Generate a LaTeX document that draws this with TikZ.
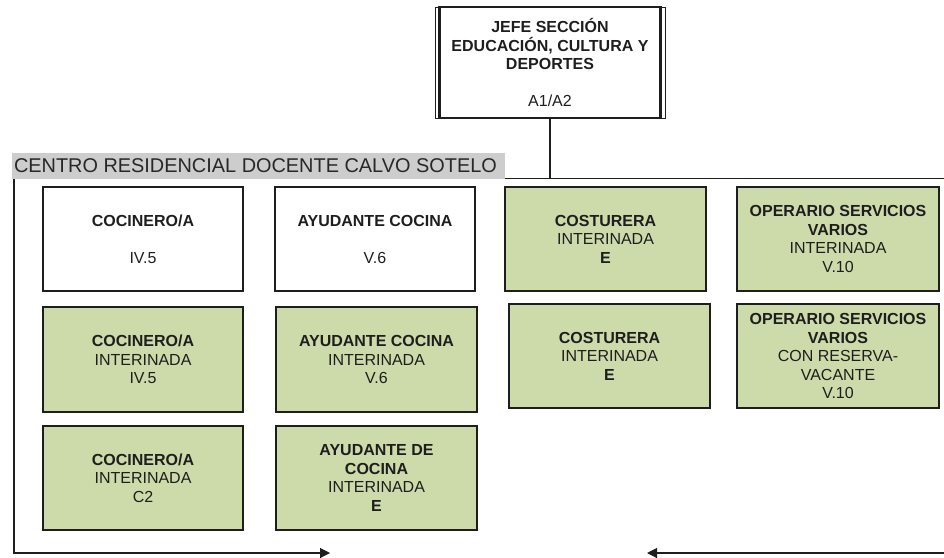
\documentclass[tikz,border=0pt]{standalone}
\usepackage{fontspec}
\setmainfont{Liberation Sans}
\usetikzlibrary{arrows.meta}
\definecolor{boxgreen}{RGB}{205,219,170}
\definecolor{hdrgray}{RGB}{205,205,205}
\definecolor{inkc}{RGB}{30,30,30}
\tikzset{
  x=1pt, y=-1pt,
  orgbox/.style={draw=inkc, line width=1.2pt, minimum width=200pt, minimum height=104pt,
    inner sep=0pt, align=center, font=\fontsize{16}{18.5}\selectfont, text=inkc},
  greenbox/.style={orgbox, fill=boxgreen},
  conn/.style={draw=inkc, line width=1.1pt},
  tip/.style={-{Triangle[length=10pt,width=10pt]}}
}
\begin{document}
\begin{tikzpicture}
\useasboundingbox (0,0) rectangle (944,557);
% top box
\node[draw=inkc, line width=1pt, minimum width=230pt, minimum height=111pt, inner sep=0pt] (topout) at (550,62.5) {};
\node[draw=inkc, line width=2.2pt, minimum width=221pt, minimum height=111pt, inner sep=0pt,
  align=center, font=\fontsize{16}{18.5}\selectfont, text=inkc] (top) at (550,62.5)
  {\textbf{JEFE SECCIÓN}\\\textbf{EDUCACIÓN, CULTURA Y}\\\textbf{DEPORTES}\\[18.5pt]A1/A2};
% header
\node[fill=hdrgray, minimum height=26pt, inner xsep=2pt, inner ysep=0pt,
  font=\fontsize{19.9}{20}\selectfont, text={rgb,255:red,40;green,40;blue,40}] (hdr) at (258.5,166)
  {\makebox[489pt][l]{CENTRO RESIDENCIAL DOCENTE CALVO SOTELO}};
\coordinate (hl) at (505,178.5);
\coordinate (hr) at (944,178.5);
\draw[conn] (top.south) -- (top.south |- hl);
\draw[conn] (hl) -- (hr);
% bracket lines
\coordinate (lt) at (14,179);
\coordinate (lb) at (14,553);
\coordinate (ae) at (330,553);
\coordinate (rs) at (944,553);
\coordinate (re) at (647,553);
\draw[conn, tip] (lt) -- (lb) -- (ae);
\draw[conn, tip] (rs) -- (re);
% row 1
\node[orgbox] (c1) at (143,239) {\textbf{COCINERO/A}\\[18.5pt]IV.5};
\node[orgbox] (c2) at (375,239) {\textbf{AYUDANTE COCINA}\\[18.5pt]V.6};
\node[greenbox, minimum width=201pt] (c3) at (605.5,239) {\textbf{COSTURERA}\\INTERINADA\\\textbf{E}};
\node[greenbox, minimum width=202pt] (c4) at (838,239) {\textbf{OPERARIO SERVICIOS}\\\textbf{VARIOS}\\INTERINADA\\V.10};
% row 2
\node[greenbox, minimum height=105pt] (c5) at (143,359.5) {\textbf{COCINERO/A}\\INTERINADA\\IV.5};
\node[greenbox, minimum width=201pt, minimum height=105pt] (c6) at (376.5,359.5) {\textbf{AYUDANTE COCINA}\\INTERINADA\\V.6};
\node[greenbox, minimum width=201pt] (c7) at (609.5,356) {\textbf{COSTURERA}\\INTERINADA\\\textbf{E}};
\node[greenbox, minimum width=202pt] (c8) at (838,356) {\textbf{OPERARIO SERVICIOS}\\\textbf{VARIOS}\\CON RESERVA-\\VACANTE\\V.10};
% row 3
\node[greenbox] (c9) at (143,478) {\textbf{COCINERO/A}\\INTERINADA\\C2};
\node[greenbox, minimum width=201pt] (c10) at (376.5,478) {\textbf{AYUDANTE DE}\\\textbf{COCINA}\\INTERINADA\\\textbf{E}};
\end{tikzpicture}
\end{document}
